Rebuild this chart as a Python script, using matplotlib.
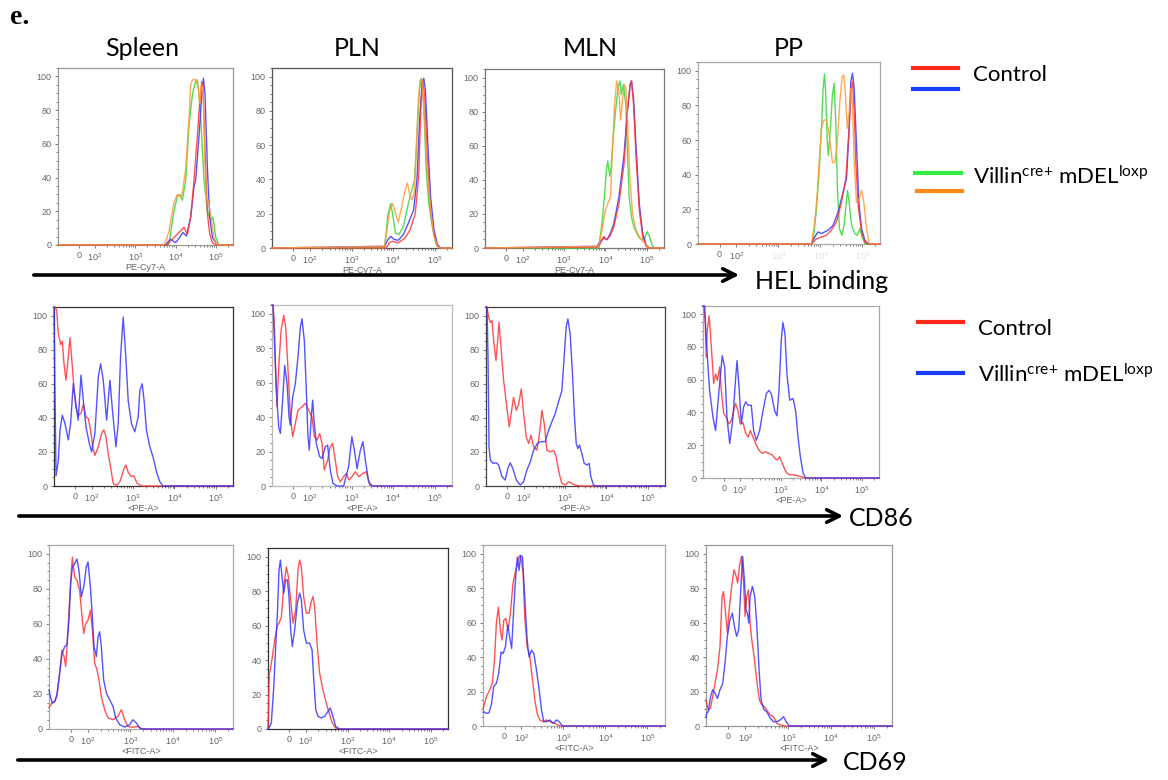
import numpy as np
import matplotlib
matplotlib.use("Agg")
import matplotlib.pyplot as plt
import matplotlib.ticker as mticker
from matplotlib.patches import FancyArrowPatch
from matplotlib.lines import Line2D

# ---- data: histogram traces (fluorescence value, % of max) ----
tissues = ["Spleen", "PLN", "MLN", "PP"]
tick_vals = [0, 100, 1000, 10000, 100000]
tick_labels = ["0", "$\\mathregular{10^2}$", "$\\mathregular{10^3}$",
               "$\\mathregular{10^4}$", "$\\mathregular{10^5}$"]

# HEL binding (PE-Cy7-A)
hel_spleen_red_x = [6000, 6800, 9050, 13260, 16050, 19420, 23500, 28440, 34420, 39300, 44100, 47500, 53400, 60980, 69700, 81170, 98220]
hel_spleen_red_y = [0, 1.4, 4.4, 8.5, 10.5, 6.4, 16.5, 38.6, 65, 85, 97, 93, 55, 18.5, 6.4, 1.4, 0]
hel_spleen_blue_x = [5600, 6180, 7480, 9960, 12500, 15100, 18350, 23500, 28440, 31290, 37860, 44100, 48500, 53400, 60980, 69700, 81170, 108000]
hel_spleen_blue_y = [0, 1.4, 3.4, 1.4, 4.4, 7.4, 5.4, 16.5, 34.6, 38.6, 65, 89, 99, 89, 45, 16.5, 4.4, 0]
hel_spleen_green_x = [6000, 6800, 9050, 10960, 12500, 14590, 17650, 21360, 25850, 30100, 34420, 37860, 41650, 50400, 60980, 73790, 84000, 98220, 118800]
hel_spleen_green_y = [0, 0.5, 20, 28.5, 30, 26.5, 38, 71, 89, 96, 98, 89, 75, 38, 20, 14.5, 16.5, 4.4, 0]
hel_spleen_orange_x = [5000, 5620, 6800, 9050, 10960, 13260, 14590, 17650, 21360, 23500, 25850, 31290, 36400, 39300, 44100, 48500, 52400, 57600, 64400, 73790, 89290, 108000]
hel_spleen_orange_y = [0, 2, 8, 25, 30, 28.5, 31, 45, 75, 95, 98, 98, 93, 84, 95, 90, 50, 28, 26, 18, 4, 0]

hel_pln_red_x = [6870, 8300, 10000, 13300, 19400, 25800, 34200, 41300, 47200, 51800, 58000, 66200, 79900, 96500, 117000, 141000]
hel_pln_red_y = [0, 3.3, 3.9, 3, 5.8, 10.7, 20, 42, 84, 98, 88, 55, 22, 7.8, 1, 0]
hel_pln_blue_x = [6250, 7550, 8800, 10600, 13300, 17700, 23400, 31100, 37600, 43600, 49900, 54800, 60200, 68700, 79900, 96500, 117000, 141000]
hel_pln_blue_y = [1, 5, 6.8, 5, 4.5, 7.8, 14.6, 22, 40, 75, 96, 99, 92, 61, 30, 10.7, 2, 0]
hel_pln_green_x = [6250, 7550, 8800, 10000, 11400, 13800, 17700, 23400, 28300, 33000, 37600, 42900, 48000, 54800, 62500, 72700, 87800, 106000, 128000]
hel_pln_green_y = [0, 20, 26, 18, 8.7, 7.8, 12.6, 26, 34, 40, 65, 92, 99, 84, 46, 26, 12.6, 3, 0]
hel_pln_orange_x = [6250, 7270, 8300, 9650, 11000, 13300, 15500, 18700, 22100, 24800, 28300, 32300, 36200, 40500, 44600, 49900, 56700, 66200, 79900, 96500, 117000, 141000]
hel_pln_orange_y = [1, 12, 22, 26, 22, 15, 22, 32, 38, 32, 28, 32, 58, 86, 98, 98, 75, 46, 22, 7, 1, 0]

hel_mln_red_x = [6860, 9110, 10600, 12800, 16100, 21300, 28300, 34200, 39800, 42900, 48000, 54800, 66200, 79900, 96500, 117000]
hel_mln_red_y = [0.6, 6.8, 4.9, 6.8, 12.6, 26, 49.5, 80.6, 96, 98, 84, 55, 22, 6.8, 1, 0]
hel_mln_blue_x = [6240, 7540, 9110, 11000, 13300, 16100, 21300, 28300, 34200, 39800, 42900, 48000, 54800, 66200, 79900, 96500, 117000]
hel_mln_blue_y = [1, 3.9, 5.8, 4.9, 8.7, 14.6, 30, 55, 80.6, 96, 98, 88, 61, 26, 8.7, 2, 0]
hel_mln_green_x = [6860, 8290, 9470, 10600, 11400, 12800, 13800, 15500, 17700, 20200, 22500, 24300, 27300, 31100, 34200, 37600, 42900, 49900, 66200, 87800, 102000, 117000, 133000, 155000]
hel_mln_green_y = [0, 14.6, 30, 45.6, 51, 42, 47.6, 65, 80.6, 94, 98, 90, 96, 84, 55, 30, 18, 11.7, 5.8, 4.9, 9.7, 6.8, 2, 0]
hel_mln_orange_x = [6860, 8290, 10000, 11400, 13300, 14600, 16700, 18700, 21300, 23400, 25800, 28300, 31100, 34200, 39000, 45400, 54800, 72700, 96500, 117000]
hel_mln_orange_y = [1, 10.7, 22, 26, 30, 55, 84, 98, 92, 75, 86, 96, 94, 75, 42, 20, 10.7, 4.9, 2, 0]

hel_pp_red_x = [6110, 8040, 10600, 13900, 18300, 24100, 31700, 40400, 48300, 53900, 58100, 63700, 69800, 79400, 95300, 115000, 138000]
hel_pp_red_y = [0, 3, 4, 5, 8, 12.7, 24, 37.8, 66.7, 89.8, 93.6, 76, 47, 22, 7, 1, 0]
hel_pp_blue_x = [6110, 7330, 8810, 10600, 12700, 15300, 20100, 26400, 34800, 41800, 48300, 52900, 58100, 63700, 72400, 82400, 95300, 115000, 138000]
hel_pp_blue_y = [0, 4, 7, 6, 7, 8, 10.8, 18.5, 30, 37.8, 66.7, 93.6, 98.5, 89.8, 57, 24, 8.9, 2, 0]
hel_pp_green_x = [6110, 6930, 8040, 9320, 10600, 11600, 12500, 13400, 14400, 15500, 17300, 19300, 21200, 23200, 25400, 28400, 32300, 36800, 40400, 44100, 48300, 55000, 66100, 75000, 87000, 98600, 115000]
hel_pp_green_y = [0, 5, 20, 41.6, 66.7, 89.8, 98, 86, 61, 51, 66.7, 86, 92.7, 70.5, 32, 8.9, 5, 10.8, 22, 31, 24, 10.8, 6, 5, 8.9, 4, 0]
hel_pp_orange_x = [6110, 7330, 8320, 9320, 10600, 12000, 13900, 15300, 17300, 19300, 22000, 24900, 29000, 33000, 36100, 39600, 43300, 48300, 52900, 58100, 63700, 72400, 84000, 95300, 108000, 126000, 146000]
hel_pp_orange_y = [0, 12.7, 28, 47, 66.7, 71.5, 71.5, 66.7, 57, 47, 47, 57, 82, 96.5, 97.5, 86, 66.7, 76, 89.8, 80, 47, 24, 26, 31, 24, 8.9, 0]

# CD86 (<PE-A>)
cd86_spleen_red_x = [-130, -123, -112, -102, -88, -78, -68, -56, -42, -32, -22, -8, 4, 18, 35, 49, 65, 79, 93, 105, 119, 144, 172, 196, 221, 250, 285, 330, 398, 479, 597, 668, 762, 916, 1040, 1260, 1600]
cd86_spleen_red_y = [105, 105, 103, 89, 83, 85, 71.7, 62, 75.6, 87, 75.6, 58, 46, 41.5, 42.5, 48, 40.5, 39.6, 32.7, 23, 18, 23, 30.8, 33, 28.8, 19, 11, 1.5, 0.4, 2.5, 10, 12.3, 8, 5.5, 6, 1.5, 0]
cd86_spleen_blue_x = [-130, -124, -116, -102, -92, -78, -62, -42, -28, -12, 4, 18, 35, 49, 65, 85, 99, 119, 144, 164, 190, 229, 250, 275, 313, 384, 437, 497, 577, 668, 762, 916, 1100, 1330, 1460, 1660, 1850, 2110, 2540, 3050, 3680, 4430, 5320]
cd86_spleen_blue_y = [105, 60, 6, 15, 33, 41.5, 36.6, 27, 36.6, 60, 48, 38.6, 65, 50, 34.7, 25, 20, 30.8, 64, 71.7, 62, 38.6, 50, 62, 46, 23, 36.6, 75.6, 99, 75.6, 50, 36.6, 31.8, 40.5, 56, 60, 50, 32.7, 23, 17, 8.4, 2.5, 0]

cd86_pln_red_x = [-130, -123, -114, -106, -98.5, -88, -74, -58, -46, -34, -18, -4, 12, 28, 52, 72, 92, 112, 127, 148, 171, 195, 221, 266, 308, 351, 407, 463, 537, 646, 748, 867, 1020, 1240, 1490, 1880, 2270, 2740, 3420]
cd86_pln_red_y = [105, 105, 94, 65, 46, 69, 90, 99, 92, 71, 40, 28.6, 36.3, 44, 46, 48, 44, 40, 28.6, 26.6, 30.5, 24.7, 9.3, 15, 22.8, 24.7, 15, 5.4, 2.5, 5.4, 7.3, 3.5, 5.4, 8.3, 5.4, 7.3, 8.3, 0.6, 0]
cd86_pln_blue_x = [-130, -123, -114, -102, -88, -78, -66, -52, -38, -26, -18, -4, 12, 28, 42, 52, 66, 78, 88, 96, 106, 116, 127, 142, 171, 195, 234, 266, 308, 358, 447, 646, 851, 1020, 1170, 1360, 1630, 1880, 2150, 2590, 3120]
cd86_pln_blue_y = [105, 105, 84.5, 55.6, 34, 30.5, 48, 70, 59.5, 40, 35.3, 51.7, 59.5, 75, 92, 97, 84.5, 55.6, 28.6, 20.8, 38, 49.8, 36.3, 24.7, 17, 16, 22.8, 23.7, 9.3, 1.5, 0, 0, 11.2, 28.6, 20.8, 10, 20.8, 25.7, 15, 2.5, 0]

cd86_mln_red_x = [-130, -123, -112, -102, -92, -82, -68, -58, -50, -38, -22, -2, 12, 24, 38, 55, 69, 85, 99, 115, 131, 150, 173, 208, 241, 275, 313, 362, 437, 525, 609, 720, 836, 1000, 1210, 1460, 1750, 2320]
cd86_mln_red_y = [105, 105, 99, 96, 97, 85, 73.7, 85, 96, 81.5, 62, 46, 34.7, 42.5, 52, 44.4, 48, 57, 42.5, 28.8, 25, 29.8, 23, 21, 30.8, 44.4, 36.6, 21, 20, 21, 17, 7.4, 1.5, 0.6, 2.5, 1.5, 0.6, 0]
cd86_mln_blue_x = [-130, -123, -116, -110, -102, -86, -66, -52, -32, -12, 4, 18, 34, 55, 79, 99, 119, 144, 173, 208, 250, 330, 398, 479, 577, 694, 836, 950, 1060, 1170, 1330, 1510, 1690, 1860, 2040, 2240, 2550, 2900, 3370, 3830, 4200, 4860, 5850]
cd86_mln_blue_y = [105, 105, 75.6, 23, 15.2, 13.3, 13.6, 12.3, 5.5, 3.5, 10.3, 13.6, 10.3, 3.5, 0.6, 2.5, 9.4, 14.2, 21, 24.6, 26, 26, 32.7, 37.6, 42.5, 49.3, 56, 75.6, 93, 98, 89, 66, 40.5, 25, 22, 24, 19, 13.3, 12.3, 13.3, 5.5, 0.6, 0]

cd86_pp_red_x = [-130, -123, -114, -108, -102, -91, -84, -73, -63, -51, -40, -26, -16, -1, 15, 31, 46, 60, 72, 87, 101, 117, 137, 157, 178, 207, 241, 291, 352, 425, 513, 620, 708, 808, 940, 1090, 1320, 1590, 2010, 2660, 3540, 4280]
cd86_pp_red_y = [105, 105, 94, 73.7, 90, 99, 90, 73.7, 57.6, 63.6, 59.6, 67.7, 53.5, 39.4, 37, 33, 35, 41, 45.5, 41, 33, 34, 27.3, 25, 29, 25, 21, 17, 15, 16, 15, 14, 12, 11, 13, 9, 4, 2, 2, 1.4, 0.4, 0]
cd86_pp_blue_x = [-130, -118, -108, -88, -67, -51, -30, -10, 5, 19, 36, 56, 70, 81, 93, 107, 122, 137, 157, 188, 215, 251, 302, 365, 442, 513, 585, 708, 808, 905, 1030, 1130, 1270, 1420, 1660, 2010, 2330, 2660, 3040, 3540, 4120]
cd86_pp_blue_y = [105, 105, 84, 53.5, 37, 29, 53.5, 74.7, 67.7, 37, 21, 37, 57.6, 71.7, 55.6, 33, 43.4, 46.5, 44.4, 44.4, 29, 23, 29, 41, 51.5, 53.5, 51.5, 41, 38, 53.5, 84, 95, 88, 63.6, 47.5, 48.5, 41, 25, 13, 3, 0]

# CD69 (<FITC-A>)
cd69_spleen_red_x = [-130, -125, -109, -95, -82, -66, -52, -40, -30, -17, -3, 9, 23, 36, 52, 66, 76, 87, 101, 115, 128, 145, 165, 183, 208, 249, 299, 392, 514, 615, 736, 881, 1160, 1520, 1820]
cd69_spleen_red_y = [12, 12.9, 14.8, 15.7, 18.6, 31.8, 45, 41.3, 35.6, 56.4, 81, 98, 86.7, 84.8, 79, 64, 54.5, 60, 62, 67.8, 56.4, 37.5, 33.7, 28, 18.6, 11, 6.3, 5.3, 7.2, 11, 5.3, 1.5, 1, 1.5, 0]
cd69_spleen_blue_x = [-130, -121, -109, -95, -82, -66, -52, -36, -23, -11, -1, 9, 23, 36, 48, 62, 76, 91, 101, 115, 128, 140, 159, 174, 190, 208, 236, 273, 327, 392, 453, 562, 736, 965, 1160, 1390, 1660, 1990]
cd69_spleen_blue_y = [22.3, 18.6, 14.8, 15.7, 19.5, 31.8, 43, 47, 48, 62, 83, 92.4, 94.3, 97, 90.5, 75.4, 81, 92.4, 95.3, 81, 64, 47, 41.3, 52.7, 55.5, 47, 28, 20.5, 16.7, 12.9, 6.3, 2.5, 1.1, 2.5, 5.3, 3.4, 0.6, 0]

cd69_pln_red_x = [-130, -121, -114, -102, -88, -74, -62, -48, -34, -18, -6, 6, 22, 38, 52, 62, 72, 86, 102, 118, 134, 148, 162, 185, 213, 256, 308, 372, 431, 517, 646]
cd69_pln_red_y = [0, 32.4, 34.4, 42, 51.7, 59.5, 61.4, 65, 82.6, 94, 88.4, 76.8, 61.4, 69, 92.3, 98, 94, 76.8, 67.2, 67.2, 74, 76.8, 71, 49.8, 32.4, 22.8, 15, 8.3, 3.5, 0.6, 0]
cd69_pln_blue_x = [-130, -123, -108, -95, -83, -72, -62, -54, -44, -34, -22, -12, -2, 8, 18, 32, 48, 62, 72, 86, 102, 122, 140, 154, 172, 195, 234, 281, 338, 385, 447, 517, 646]
cd69_pln_blue_y = [0, 0.6, 3.5, 22.8, 46, 67.2, 92.3, 98, 88.4, 78.8, 86.5, 86.5, 76.8, 57.5, 47.9, 57.5, 73, 78.8, 75, 57.5, 49.8, 49.8, 46, 28.6, 11.2, 7.3, 6.4, 7.3, 10.2, 12.2, 7.3, 1.5, 0]

cd69_mln_red_x = [-130, -125, -108, -89, -73, -59, -49, -37, -25, -15, -5, 7, 21, 34, 50, 66, 80, 90, 100, 110, 120, 137, 159, 184, 209, 237, 275, 329, 394, 473, 627, 824]
cd69_mln_red_y = [10, 11.2, 17, 20.8, 24.7, 40, 59.5, 69, 55.6, 49.8, 61.4, 62.4, 55.6, 65, 82.6, 90.3, 96, 99, 96, 88.4, 63.3, 46, 40, 26.6, 15, 7.3, 3.5, 2.5, 3.5, 2.5, 1.5, 0]
cd69_mln_blue_x = [-130, -125, -108, -93, -79, -65, -49, -35, -21, -9, 5, 19, 30, 42, 54, 66, 76, 86, 96, 106, 120, 137, 153, 173, 198, 229, 265, 301, 341, 394, 473, 571, 687, 794, 955]
cd69_mln_blue_y = [8, 8.3, 7.3, 7.7, 12.2, 22.8, 24.7, 30.5, 43, 42, 46, 58.5, 51.7, 45, 67.2, 86.5, 98, 90.3, 99, 98, 75, 49.8, 40, 44, 42, 32.4, 20.8, 9.3, 2.5, 2.5, 3.5, 1.5, 3.5, 2.5, 0]

cd69_pp_red_x = [-130, -125, -115, -102, -90, -76, -62, -47, -35, -27, -18, -4, 8, 21, 35, 47, 56, 66, 78, 89, 99, 108, 119, 130, 142, 161, 185, 214, 243, 276, 318, 381, 456, 546, 652, 853]
cd69_pp_red_y = [15, 13, 9.3, 10.3, 17, 24.8, 32.6, 46, 75.2, 78, 69.4, 53.9, 69.4, 81, 90.7, 86.8, 83, 92.6, 98.4, 85, 63.6, 75.2, 79, 59.7, 50, 40.3, 26.7, 15, 12.2, 11.2, 9.3, 6.4, 5.4, 1.6, 0.6, 0]
cd69_pp_blue_x = [-130, -125, -115, -102, -90, -76, -62, -47, -31, -18, -4, 11, 25, 37, 50, 62, 74, 85, 95, 104, 112, 121, 130, 147, 166, 185, 210, 234, 276, 318, 381, 456, 546, 652, 780, 900, 1070]
cd69_pp_blue_y = [5, 7.4, 8.3, 17, 21, 19, 16, 21, 24.8, 36.4, 52, 61.6, 65.5, 57.8, 52, 55.8, 79, 98.4, 84.9, 67.4, 65.5, 59.7, 75.2, 81, 75.2, 59.7, 32.6, 15.1, 9.3, 8.3, 4.5, 2.5, 2.5, 3.5, 5.4, 2.5, 0]

# ---- figure ----
W, H = 1168, 780
XMIN, XMAX = -130, 262144
RED, BLUE, GREEN, ORANGE = "#ff3535", "#3535ff", "#35d835", "#ff9a3a"

plt.rcParams["font.family"] = ["Lato", "DejaVu Sans"]
fig = plt.figure(figsize=(W / 100, H / 100), dpi=100)


def px_axes(l, t, r, b):
    return fig.add_axes([l / W, 1 - b / H, (r - l) / W, (b - t) / H])


def style(ax, xlabel, frame, faded=False):
    ax.set_xscale("symlog", linthresh=100, linscale=0.36)
    ax.set_xlim(XMIN, XMAX)
    ax.set_ylim(0, 105)
    ax.set_xticks(tick_vals)
    ax.set_xticklabels(tick_labels)
    ax.xaxis.set_minor_locator(mticker.SymmetricalLogLocator(linthresh=100, base=10, subs=np.arange(2, 10)))
    ax.set_yticks([0, 20, 40, 60, 80, 100])
    ax.yaxis.set_minor_locator(mticker.MultipleLocator(5))
    ax.tick_params(which="both", direction="out", colors="#666666", labelsize=6.5,
                   width=0.6, length=2.5, pad=2)
    ax.tick_params(which="minor", length=1.5)
    for lab in ax.get_xticklabels() + ax.get_yticklabels():
        lab.set_family("Liberation Sans")
    if faded:
        for lab in ax.get_xticklabels()[2:]:
            lab.set_alpha(0.2)
    else:
        ax.set_xlabel(xlabel, fontsize=6.5, color="#666666", labelpad=0, family="Liberation Sans")
    for s in ax.spines.values():
        s.set_color(frame)
        s.set_linewidth(0.9)


def trace(ax, x, y, color):
    x = list(x)
    y = list(y)
    if x[0] > XMIN:
        x = [XMIN] + x
        y = [0] + y
    x = x + [XMAX]
    y = y + [0]
    ax.plot(x, y, color=color, lw=1.0, alpha=0.85, clip_on=False, zorder=3,
            solid_joinstyle="round")


# panel boxes in pixels: (left, top, right, bottom)
hel_boxes = [(58, 68, 233, 245), (272, 68, 452, 248), (485, 69, 664, 248), (698, 62, 880, 244)]
cd86_boxes = [(54, 307, 233, 486), (272, 305, 452, 486), (486, 307, 665, 486), (703, 306, 879, 478)]
cd69_boxes = [(49, 545, 233, 729), (268, 548, 448, 729), (483, 545, 665, 726), (706, 545, 892, 726)]
hel_frames = ["#999999", "#555555", "#777777", "#aaaaaa"]
cd86_frames = ["#333333", "#bbbbbb", "#444444", "#aaaaaa"]
cd69_frames = ["#aaaaaa", "#333333", "#aaaaaa", "#999999"]

hel_traces = [
    [(hel_spleen_green_x, hel_spleen_green_y), (hel_spleen_blue_x, hel_spleen_blue_y),
     (hel_spleen_red_x, hel_spleen_red_y), (hel_spleen_orange_x, hel_spleen_orange_y)],
    [(hel_pln_green_x, hel_pln_green_y), (hel_pln_blue_x, hel_pln_blue_y),
     (hel_pln_red_x, hel_pln_red_y), (hel_pln_orange_x, hel_pln_orange_y)],
    [(hel_mln_green_x, hel_mln_green_y), (hel_mln_blue_x, hel_mln_blue_y),
     (hel_mln_red_x, hel_mln_red_y), (hel_mln_orange_x, hel_mln_orange_y)],
    [(hel_pp_green_x, hel_pp_green_y), (hel_pp_blue_x, hel_pp_blue_y),
     (hel_pp_red_x, hel_pp_red_y), (hel_pp_orange_x, hel_pp_orange_y)],
]
hel_colors = [GREEN, BLUE, RED, ORANGE]

cd86_traces = [
    [(cd86_spleen_red_x, cd86_spleen_red_y), (cd86_spleen_blue_x, cd86_spleen_blue_y)],
    [(cd86_pln_red_x, cd86_pln_red_y), (cd86_pln_blue_x, cd86_pln_blue_y)],
    [(cd86_mln_red_x, cd86_mln_red_y), (cd86_mln_blue_x, cd86_mln_blue_y)],
    [(cd86_pp_red_x, cd86_pp_red_y), (cd86_pp_blue_x, cd86_pp_blue_y)],
]
cd69_traces = [
    [(cd69_spleen_red_x, cd69_spleen_red_y), (cd69_spleen_blue_x, cd69_spleen_blue_y)],
    [(cd69_pln_red_x, cd69_pln_red_y), (cd69_pln_blue_x, cd69_pln_blue_y)],
    [(cd69_mln_red_x, cd69_mln_red_y), (cd69_mln_blue_x, cd69_mln_blue_y)],
    [(cd69_pp_red_x, cd69_pp_red_y), (cd69_pp_blue_x, cd69_pp_blue_y)],
]

for i in range(4):
    ax = px_axes(*hel_boxes[i])
    for (x, y), c in zip(hel_traces[i], hel_colors):
        trace(ax, x, y, c)
    style(ax, "PE-Cy7-A", hel_frames[i], faded=(i == 3))

    ax = px_axes(*cd86_boxes[i])
    for (x, y), c in zip(cd86_traces[i], [RED, BLUE]):
        trace(ax, x, y, c)
    style(ax, "<PE-A>", cd86_frames[i])

    ax = px_axes(*cd69_boxes[i])
    for (x, y), c in zip(cd69_traces[i], [RED, BLUE]):
        trace(ax, x, y, c)
    style(ax, "<FITC-A>", cd69_frames[i])


def fx(x):
    return x / W


def fy(y):
    return 1 - y / H


# panel label and column titles
fig.text(fx(10), fy(17), "e.", fontsize=20, fontweight="bold", family="Liberation Serif", va="center")
for name, cx in zip(tissues, [142, 357, 590, 789]):
    fig.text(fx(cx), fy(48), name, fontsize=18, ha="center", va="center")

# marker arrows
for x0, x1, y, label, lx in [(31, 742, 275, "HEL binding", 755),
                              (16, 846, 516, "CD86", 849),
                              (15, 832, 760, "CD69", 843)]:
    fig.add_artist(FancyArrowPatch((fx(x0), fy(y)), (fx(x1), fy(y)), transform=fig.transFigure,
                                   arrowstyle="->,head_length=0.9,head_width=0.45",
                                   mutation_scale=10, lw=2.6, color="black"))
    fig.text(fx(lx), fy(y + 6 if label == "HEL binding" else y + 2), label, fontsize=18, va="center")

# legends
villin = "Villin$\\mathregular{^{cre{+}}}$ mDEL$\\mathregular{^{loxp}}$"
for x0, x1, y, c in [(913, 958, 68, "#ff2a1a"), (913, 958, 89, "#1a3cff"),
                     (915, 961, 173, "#33ee44"), (917, 962, 191, "#ff8a1a"),
                     (918, 963, 322, "#ff2a1a"), (918, 963, 373, "#1a3cff")]:
    fig.add_artist(Line2D([fx(x0), fx(x1)], [fy(y), fy(y)], transform=fig.transFigure, color=c, lw=3))
fig.text(fx(973), fy(75), "Control", fontsize=16, va="center")
fig.text(fx(973), fy(177), villin, fontsize=16, va="center")
fig.text(fx(978), fy(329), "Control", fontsize=16, va="center")
fig.text(fx(978), fy(375), villin, fontsize=16, va="center")

fig.savefig("out.png", dpi=100)
